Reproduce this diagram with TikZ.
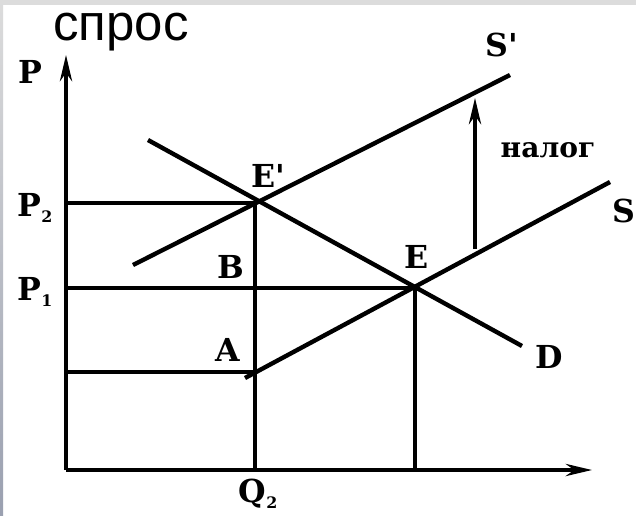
\documentclass[tikz,border=0pt]{standalone}
\usepackage{fontspec}
\setmainfont{DejaVu Serif}
\newfontfamily\arialfont{Liberation Sans}
\usetikzlibrary{arrows.meta}
\definecolor{topgray}{HTML}{DCDCDC}
\definecolor{leftblue}{HTML}{9AA0B0}
\tikzset{
  curve/.style={line width=2.5pt},
  guide/.style={line width=1.9pt},
  axis/.style={line width=1.9pt,-{Stealth[length=15pt,width=7pt]}},
  lbl/.style={font=\fontsize{18}{20}\selectfont\bfseries, inner sep=0pt},
}
\newcommand{\subl}[2]{#1\raisebox{-0.35ex}{\fontsize{9}{10}\selectfont #2}}
\begin{document}
\begin{tikzpicture}[x=0.02cm,y=-0.02cm]
\useasboundingbox (0,0) rectangle (636,515);
\fill[white] (0,0) rectangle (636,515);
\fill[topgray] (0,0) rectangle (636,5);
\shade[top color=topgray,bottom color=leftblue] (0,0) rectangle (3,515);
% coordinates
\coordinate (O) at (66,470);
\coordinate (Ptop) at (66,55);
\coordinate (Qend) at (592,470);
\coordinate (Ep) at (255,203);
\coordinate (E) at (415,288);
\coordinate (A) at (255,372);
\coordinate (P2y) at (66,203);
\coordinate (P1y) at (66,288);
\coordinate (Ay) at (66,372);
\coordinate (Q2x) at (255,470);
\coordinate (Qex) at (415,470);
\coordinate (D1) at (148,140);
\coordinate (D2) at (522,346);
\coordinate (S1) at (245,378);
\coordinate (S2) at (610,182);
\coordinate (Sp1) at (133,265);
\coordinate (Sp2) at (510,75);
\coordinate (T1) at (475,249);
\coordinate (T2) at (475,98);
% axes
\draw[axis] (O) -- (Ptop);
\draw[axis] (O) -- (Qend);
% guides
\draw[guide] (P2y) -- (Ep);
\draw[guide] (P1y) -- (E);
\draw[guide] (Ay) -- (A);
\draw[guide] (Ep) -- (Q2x);
\draw[guide] (E) -- (Qex);
% curves
\draw[curve] (D1) -- (D2);
\draw[curve] (S1) -- (S2);
\draw[curve] (Sp1) -- (Sp2);
\draw[guide,-{Stealth[length=15pt,width=7pt]}] (T1) -- (T2);
% labels
\node (title) at (121,32) {\arialfont\fontsize{29}{32}\selectfont спрос};
\node[lbl] (lP) at (30,72) {P};
\node[lbl] (lP2) at (35,208) {\subl{P}{2}};
\node[lbl] (lP1) at (35,292) {\subl{P}{1}};
\node[lbl] (lQ2) at (258,494) {\subl{Q}{2}};
\node[lbl] (lEp) at (268,176) {E\textquotesingle};
\node[lbl] (lB) at (231,267) {B};
\node[lbl] (lA) at (228,350) {A};
\node[lbl] (lE) at (417,257) {E};
\node[lbl] (lD) at (549,357) {D};
\node[lbl] (lS) at (624,211) {S};
\node[lbl] (lSp) at (502,45) {S\textquotesingle};
\node[lbl,font=\fontsize{16}{18}\selectfont\bfseries] (lTax) at (548,150) {налог};
\end{tikzpicture}
\end{document}
